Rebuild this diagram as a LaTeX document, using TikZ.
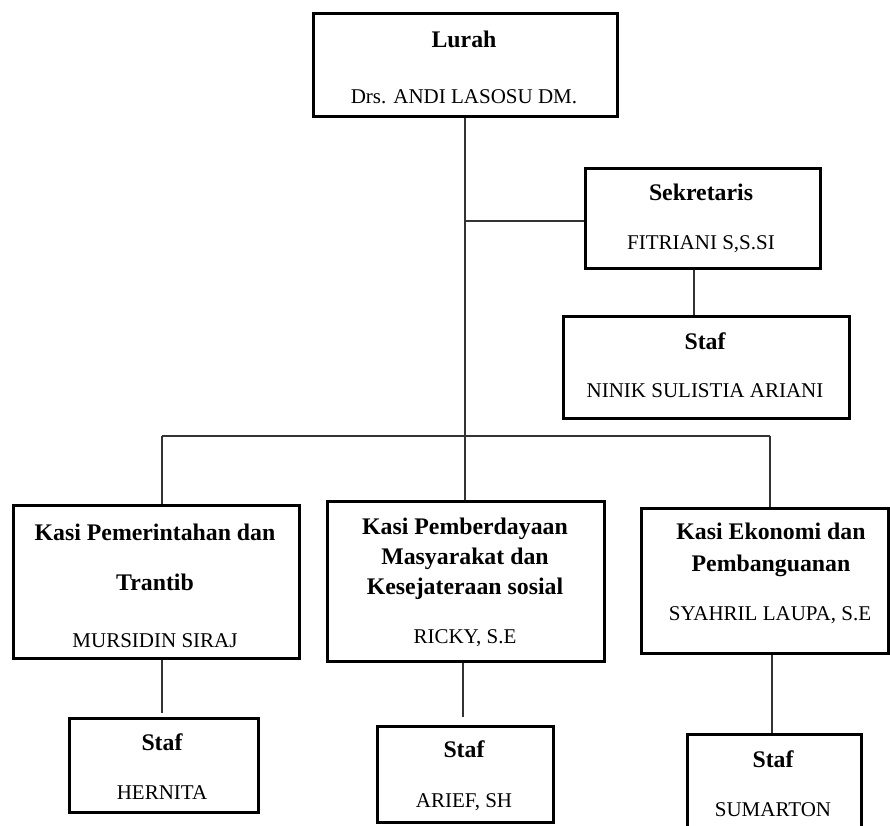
\documentclass[tikz,border=0pt]{standalone}
\usepackage{fontspec}
\setmainfont{Liberation Serif}
\begin{document}
\begin{tikzpicture}[x=1pt,y=-1pt,
  box/.style={draw=black, line width=2.8pt, inner sep=0pt, anchor=north west, fill=none},
  conn/.style={draw=black!80, line width=1.4pt},
  ttl/.style={anchor=base, inner sep=0pt, font=\fontsize{23.8}{28}\selectfont\bfseries},
  nm/.style={anchor=base, inner sep=0pt, font=\fontsize{21}{25}\selectfont}]
\useasboundingbox (0,0) rectangle (890,825);

% boxes
\node[box, minimum width=304pt, minimum height=103pt] (lurah) at (312,12) {};
\node[box, minimum width=235pt, minimum height=100pt] (sek) at (584,167) {};
\node[box, minimum width=286pt, minimum height=102pt] (stafsek) at (562,315) {};
\node[box, minimum width=286pt, minimum height=153pt] (kasiA) at (12,504) {};
\node[box, minimum width=277pt, minimum height=160pt] (kasiB) at (326,500) {};
\node[box, minimum width=247pt, minimum height=145pt] (kasiC) at (640,507) {};
\node[box, minimum width=189pt, minimum height=94pt] (stafA) at (68,717) {};
\node[box, minimum width=176pt, minimum height=96pt] (stafB) at (376,725) {};
\node[box, minimum width=174pt, minimum height=110pt] (stafC) at (686,733) {};

% texts
\node[ttl] (tLurah) at (464,47) {Lurah};
\node[nm] (nLurah) at (464,103) {Drs. ANDI LASOSU DM.};
\node[ttl] (tSek) at (701,200) {Sekretaris};
\node[nm] (nSek) at (701,249) {FITRIANI S,S.SI};
\node[ttl] (tStafSek) at (705,349) {Staf};
\node[nm] (nStafSek) at (705,397) {NINIK SULISTIA ARIANI};

\node[ttl] (tA1) at (155,540) {Kasi Pemerintahan dan};
\node[ttl] (tA2) at (155,590) {Trantib};
\node[nm] (nA) at (155,647) {MURSIDIN SIRAJ};

\node[ttl] (tB1) at (465,534) {Kasi Pemberdayaan};
\node[ttl] (tB2) at (465,564) {Masyarakat dan};
\node[ttl] (tB3) at (465,594) {Kesejateraan sosial};
\node[nm] (nB) at (465,643) {RICKY, S.E};

\node[ttl] (tC1) at (771,539) {Kasi Ekonomi dan};
\node[ttl] (tC2) at (771,571) {Pembanguanan};
\node[nm] (nC) at (770,620) {SYAHRIL LAUPA, S.E};

\node[ttl] (tSA) at (162,750) {Staf};
\node[nm] (nSA) at (162,799) {HERNITA};
\node[ttl] (tSB) at (464,757) {Staf};
\node[nm] (nSB) at (464,807) {ARIEF, SH};
\node[ttl] (tSC) at (773,767) {Staf};
\node[nm] (nSC) at (773,816) {SUMARTON};

% junction coordinates
\coordinate (jSek) at (465,221);
\coordinate (jMid) at (465,436);
\coordinate (jL) at (162,436);
\coordinate (jR) at (770,436);

% connectors
\draw[conn] (lurah.south -| jMid) -- (jSek) -- (jMid) -- (kasiB.north -| jMid);
\draw[conn] (jSek) -- (jSek -| sek.west);
\draw[conn] (jL) -- (jR);
\draw[conn] (jL) -- (kasiA.north -| jL);
\draw[conn] (jR) -- (kasiC.north -| jR);
\draw[conn] (sek.south -| 694,0) -- (stafsek.north -| 694,0);
\draw[conn, shorten >=4pt] (kasiA.south -| jL) -- (stafA.north -| jL);
\draw[conn, shorten >=8pt] (kasiB.south -| 463,0) -- (stafB.north -| 463,0);
\draw[conn] (kasiC.south -| 772,0) -- (stafC.north -| 772,0);
\end{tikzpicture}
\end{document}
